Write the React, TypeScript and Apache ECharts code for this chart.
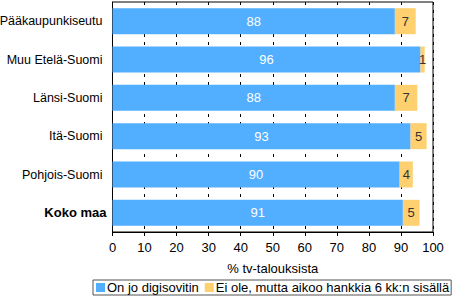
import React, { useEffect, useRef } from "react";
import * as echarts from "echarts";

const categories = ["Pääkaupunkiseutu", "Muu Etelä-Suomi", "Länsi-Suomi", "Itä-Suomi", "Pohjois-Suomi", "Koko maa"];
const hasDecoder = [88.1, 96.1, 88.1, 93.0, 89.6, 90.6];
const plansToBuy = [6.5, 1.3, 7.0, 5.0, 4.1, 5.2];
const seriesNames = ["On jo digisovitin", "Ei ole, mutta aikoo hankkia 6 kk:n sisällä"];
const xTicks = [0, 10, 20, 30, 40, 50, 60, 70, 80, 90, 100];
const axisName = "% tv-talouksista";

const FONT = "Liberation Sans, Arial, sans-serif";

export default function App() {
  const ref = useRef<HTMLDivElement>(null);
  useEffect(() => {
    if (!ref.current) return;
    const chart = echarts.init(ref.current, null, { renderer: "svg" });
    chart.setOption({
      animation: false,
      textStyle: { fontFamily: FONT },
      grid: {
        left: 112.5,
        right: 20,
        top: 2,
        bottom: 67,
        containLabel: false,
        outerBoundsMode: "none",
        show: true,
        borderColor: "#000",
        borderWidth: 1,
        backgroundColor: "transparent",
      },
      legend: {
        left: 93,
        top: 280,
        padding: [1, 2, 1, 3],
        itemGap: 6,
        itemWidth: 9,
        itemHeight: 9,
        icon: "rect",
        borderColor: "#555",
        borderWidth: 1,
        textStyle: { fontFamily: FONT, fontSize: 13, color: "#000", padding: [0, 0, 0, -3] },
        data: seriesNames,
      },
      xAxis: {
        type: "value",
        min: 0,
        max: 100,
        interval: 10,
        name: axisName,
        nameLocation: "middle",
        nameGap: 30,
        nameTextStyle: { fontFamily: FONT, fontSize: 13, color: "#000" },
        axisLine: { show: true, lineStyle: { color: "#000", width: 1 } },
        axisTick: { show: true, length: 4, lineStyle: { color: "#000" } },
        axisLabel: {
          fontFamily: FONT,
          fontSize: 13,
          color: "#000",
          margin: 9,
          formatter: (v: number) => (xTicks.includes(v) ? String(v) : ""),
        },
        splitLine: { show: true, lineStyle: { color: "#000", type: [3, 5], width: 1 } },
      },
      yAxis: {
        type: "category",
        inverse: true,
        data: categories,
        axisLine: { show: true, lineStyle: { color: "#000", width: 1 } },
        axisTick: { show: false },
        axisLabel: {
          fontFamily: FONT,
          fontSize: 12.5,
          color: "#000",
          margin: 10,
          formatter: (v: string) => (v === "Koko maa" ? "{b|" + v + "}" : v),
          rich: { b: { fontFamily: FONT, fontSize: 13, fontWeight: "bold", color: "#000", padding: [0, -4, 0, 0] } },
        },
      },
      series: [
        {
          name: seriesNames[0],
          type: "bar",
          stack: "s",
          barWidth: 26,
          data: hasDecoder,
          itemStyle: { color: "#52AEFF" },
          label: {
            show: true,
            position: "inside",
            color: "#fff",
            fontFamily: FONT,
            fontSize: 13,
            formatter: (p: any) => String(Math.round(p.value)),
          },
        },
        {
          name: seriesNames[1],
          type: "bar",
          stack: "s",
          barWidth: 26,
          data: plansToBuy,
          itemStyle: { color: "#FFD070" },
          label: {
            show: true,
            position: "inside",
            color: "#333",
            fontFamily: FONT,
            fontSize: 13,
            formatter: (p: any) => String(Math.round(p.value)),
          },
        },
      ],
    });
    return () => chart.dispose();
  }, []);
  return <div ref={ref} style={{ width: 453, height: 299, position: "absolute", left: 0, top: 0 }} />;
}
